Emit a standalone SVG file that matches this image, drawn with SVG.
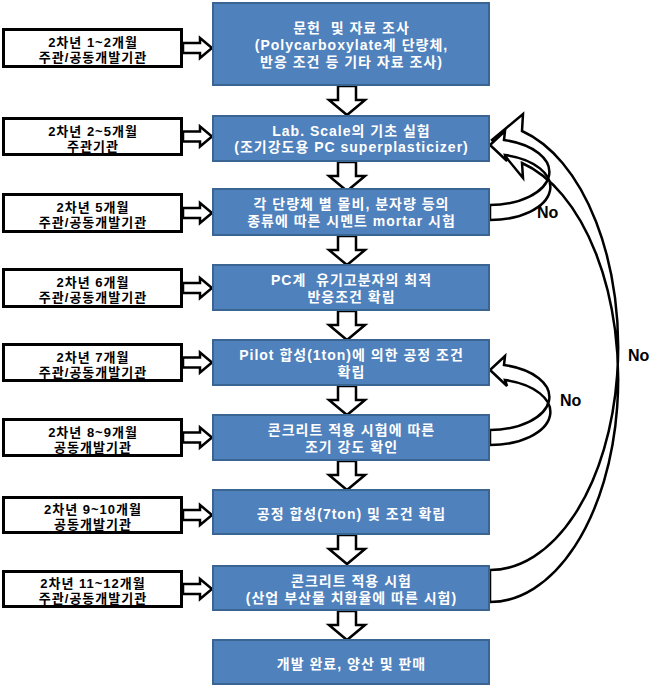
<svg xmlns="http://www.w3.org/2000/svg" width="662" height="688" viewBox="0 0 662 688">
<style>
.lb{fill:#fff;stroke:#000;stroke-width:3}
.bb{fill:#4F81BD;stroke:#3A6592;stroke-width:2}
.lt{font-family:"Liberation Sans","Noto Sans CJK KR",sans-serif;font-size:13px;font-weight:bold;fill:#000;text-anchor:middle;letter-spacing:1px}
.bt{font-family:"Liberation Sans","Noto Sans CJK KR",sans-serif;font-size:14px;font-weight:bold;fill:#fff;text-anchor:middle;white-space:pre;letter-spacing:1px}
.ar{fill:#fff;stroke:#000;stroke-width:2.5;stroke-linejoin:miter}
.cv{fill:#fff;stroke:#000;stroke-width:2.5;stroke-linejoin:miter}
.no{font-family:"Liberation Sans",sans-serif;font-size:16px;font-weight:bold;fill:#000}
</style>
<defs>
<path id="rarr" d="M183,-5 H200 V-10 L212,0 L200,10 V5 H183 Z"/>
<path id="darr" d="M-9,0 V14 H-18 L0,29 L18,14 H9 V0 Z"/>
<path id="loop" d="M490,430 A60 33 0 0 0 504,365 L505,356 L490,370 L507,386 L505,380 A60 33 0 0 1 490,445 Z"/>
</defs>

<g id="connectors">
<use href="#rarr" class="ar" transform="translate(0,48)"/>
<use href="#rarr" class="ar" transform="translate(0,136.5)"/>
<use href="#rarr" class="ar" transform="translate(0,213)"/>
<use href="#rarr" class="ar" transform="translate(0,288)"/>
<use href="#rarr" class="ar" transform="translate(0,362.5)"/>
<use href="#rarr" class="ar" transform="translate(0,437.5)"/>
<use href="#rarr" class="ar" transform="translate(0,515)"/>
<use href="#rarr" class="ar" transform="translate(0,589)"/>

<use href="#darr" class="ar" transform="translate(347,86)"/>
<use href="#darr" class="ar" transform="translate(347,162)"/>
<use href="#darr" class="ar" transform="translate(347,236)"/>
<use href="#darr" class="ar" transform="translate(347,311)"/>
<use href="#darr" class="ar" transform="translate(347,386)"/>
<use href="#darr" class="ar" transform="translate(347,461)"/>
<use href="#darr" class="ar" transform="translate(347,535)"/>
<use href="#darr" class="ar" transform="translate(347,611)"/>

<path class="cv" d="M490,570 A128 223 0 0 0 522,131 L523,114 L492,140 L523,178 L522,163 A128 223 0 0 1 490,602 Z"/>
<use href="#loop" class="cv" transform="translate(0,-225)"/>
<use href="#loop" class="cv"/>
<text class="no" x="537" y="218">No</text>
<text class="no" x="560" y="406">No</text>
<text class="no" x="628" y="361">No</text>
</g>

<g id="l1"><rect class="lb" x="3.5" y="29.5" width="178" height="37"/><text class="lt" x="93" y="47">2차년 1~2개월</text><text class="lt" x="93" y="62">주관/공동개발기관</text></g>
<g id="l2"><rect class="lb" x="3.5" y="118.5" width="178" height="36"/><text class="lt" x="93" y="135.5">2차년 2~5개월</text><text class="lt" x="93" y="150.5">주관기관</text></g>
<g id="l3"><rect class="lb" x="3.5" y="194.5" width="178" height="37"/><text class="lt" x="93" y="212">2차년 5개월</text><text class="lt" x="93" y="227">주관/공동개발기관</text></g>
<g id="l4"><rect class="lb" x="3.5" y="269.5" width="178" height="37"/><text class="lt" x="93" y="287">2차년 6개월</text><text class="lt" x="93" y="302">주관/공동개발기관</text></g>
<g id="l5"><rect class="lb" x="3.5" y="344.5" width="178" height="36"/><text class="lt" x="93" y="361.5">2차년 7개월</text><text class="lt" x="93" y="376.5">주관/공동개발기관</text></g>
<g id="l6"><rect class="lb" x="3.5" y="419.5" width="178" height="36"/><text class="lt" x="93" y="436.5">2차년 8~9개월</text><text class="lt" x="93" y="451.5">공동개발기관</text></g>
<g id="l7"><rect class="lb" x="3.5" y="497.5" width="178" height="35"/><text class="lt" x="93" y="514">2차년 9~10개월</text><text class="lt" x="93" y="529">공동개발기관</text></g>
<g id="l8"><rect class="lb" x="3.5" y="571.5" width="178" height="35"/><text class="lt" x="93" y="588">2차년 11~12개월</text><text class="lt" x="93" y="603">주관/공동개발기관</text></g>

<g id="b1"><rect class="bb" x="213" y="3" width="276" height="82"/><text class="bt" x="351.5" y="33">문헌  및 자료 조사</text><text class="bt" x="351.5" y="50">(Polycarboxylate계 단량체,</text><text class="bt" x="351.5" y="67">반응 조건 등 기타 자료 조사)</text></g>
<g id="b2"><rect class="bb" x="213" y="116" width="276" height="45"/><text class="bt" x="351.5" y="136">Lab. Scale의 기초 실험</text><text class="bt" x="351.5" y="152">(조기강도용 PC superplasticizer)</text></g>
<g id="b3"><rect class="bb" x="213" y="189" width="276" height="46"/><text class="bt" x="351.5" y="209">각 단량체 별 몰비, 분자량 등의</text><text class="bt" x="351.5" y="226">종류에 따른 시멘트 mortar 시험</text></g>
<g id="b4"><rect class="bb" x="213" y="265" width="276" height="45"/><text class="bt" x="351.5" y="285">PC계  유기고분자의 최적</text><text class="bt" x="351.5" y="302">반응조건 확립</text></g>
<g id="b5"><rect class="bb" x="213" y="340" width="276" height="45"/><text class="bt" x="351.5" y="360">Pilot 합성(1ton)에 의한 공정 조건</text><text class="bt" x="351.5" y="377">확립</text></g>
<g id="b6"><rect class="bb" x="213" y="415" width="276" height="45"/><text class="bt" x="351.5" y="435">콘크리트 적용 시험에 따른</text><text class="bt" x="351.5" y="452">조기 강도 확인</text></g>
<g id="b7"><rect class="bb" x="213" y="490" width="276" height="44"/><text class="bt" x="351.5" y="519">공정 합성(7ton) 및 조건 확립</text></g>
<g id="b8"><rect class="bb" x="213" y="566" width="276" height="44"/><text class="bt" x="351.5" y="586">콘크리트 적용 시험</text><text class="bt" x="351.5" y="603">(산업 부산물 치환율에 따른 시험)</text></g>
<g id="b9"><rect class="bb" x="213" y="640" width="276" height="44"/><text class="bt" x="351.5" y="669">개발 완료, 양산 및 판매</text></g>
</svg>
